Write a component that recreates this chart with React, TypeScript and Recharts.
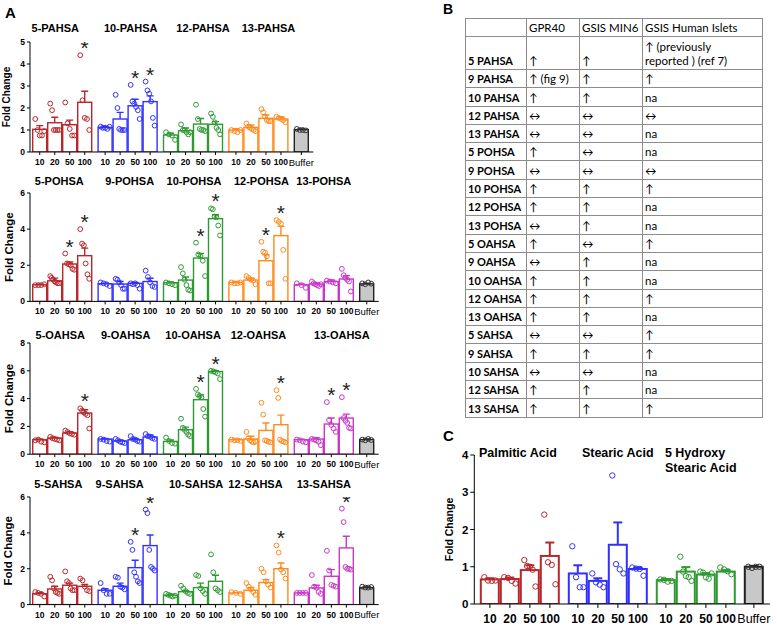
import React from 'react';
import { ComposedChart, Bar, Scatter, XAxis, YAxis, ReferenceDot } from 'recharts';

const doses = ['10', '20', '50', '100'];

const RED = '#b7272c';
const BLUE = '#3131ff';
const GREEN = '#2f9a33';
const ORANGE = '#ff8a1c';
const MAGENTA = '#c938c9';

// Panel A, row 1
const pahsaNames = ['5-PAHSA', '10-PAHSA', '12-PAHSA', '13-PAHSA'];
const pahsaMeans = [[1.03, 1.33, 1.24, 2.26], [1.12, 1.5, 2.1, 2.29], [0.77, 0.97, 1.27, 1.26], [1.0, 1.12, 1.53, 1.5]];
const pahsaSem = [[0.17, 0.25, 0.21, 0.5], [0.04, 0.3, 0.3, 0.26], [0.08, 0.12, 0.25, 0.12], [0.06, 0.11, 0.15, 0.1]];
const pahsaPoints = [
  [[1.5, 1.0, 0.75, 0.75, 0.95], [2.2, 1.9, 1.0, 1.0, 1.0, 1.0], [2.25, 1.3, 1.05, 0.75, 0.75], [4.4, 2.35, 1.55, 1.5, 1.0]],
  [[1.15, 1.1, 1.1, 1.05, 1.15], [2.6, 2.0, 1.05, 1.0, 1.0, 1.0], [3.05, 2.3, 2.2, 2.05, 1.9, 1.5], [3.2, 2.8, 2.65, 2.3, 1.55, 1.2]],
  [[0.9, 0.8, 0.75, 0.55], [1.25, 1.0, 1.0, 0.9, 0.8, 0.9], [2.15, 1.5, 1.05, 1.0, 1.0, 0.95], [1.75, 1.6, 1.35, 1.1, 1.0, 0.8]],
  [[1.0, 0.95, 0.9, 1.0], [1.3, 1.15, 1.1, 1.05, 1.0, 0.95], [1.95, 1.8, 1.6, 1.45, 1.4, 1.4], [1.6, 1.55, 1.5, 1.45, 1.35]],
];
const pahsaStars = [[0, 0, 0, 1], [0, 0, 1, 1], [0, 0, 0, 0], [0, 0, 0, 0]];

// Panel A, row 2
const pohsaNames = ['5-POHSA', '9-POHSA', '10-POHSA', '12-POHSA', '13-POHSA'];
const pohsaMeans = [[0.92, 1.14, 2.07, 2.53], [0.98, 0.96, 1.0, 1.1], [1.03, 1.18, 2.4, 4.58], [1.05, 1.18, 2.25, 3.64], [0.92, 0.96, 1.1, 1.24]];
const pohsaSem = [[0.03, 0.15, 0.11, 0.42], [0.03, 0.15, 0.05, 0.18], [0.04, 0.17, 0.26, 0.22], [0.03, 0.11, 0.33, 0.51], [0.04, 0.06, 0.08, 0.18]];
const pohsaPoints = [
  [[0.9, 0.9, 0.9, 0.95], [1.4, 1.3, 1.2, 1.1, 1.05, 1.0, 1.0], [2.65, 2.1, 2.05, 2.0, 1.8, 1.75], [4.0, 3.2, 3.1, 2.1, 1.5, 1.25]],
  [[1.05, 1.0, 0.95, 0.85], [1.25, 1.2, 1.05, 0.9, 0.7, 0.7], [1.0, 0.95, 1.0, 0.9, 0.7], [1.7, 1.35, 1.05, 0.85, 0.8]],
  [[1.05, 1.0, 0.95, 0.9], [1.9, 1.55, 1.2, 0.9, 0.65, 0.6], [3.25, 2.6, 2.5, 2.25, 1.4], [5.15, 5.1, 4.7, 4.65, 4.2, 3.65]],
  [[1.05, 1.0, 1.0, 1.05], [1.4, 1.3, 1.2, 1.15, 0.95], [3.3, 2.75, 2.7, 2.5, 1.0, 1.0], [4.5, 4.4, 4.3, 2.85, 1.25]],
  [[1.0, 0.9, 0.75], [1.1, 1.0, 0.95, 0.9, 0.85, 0.95], [1.15, 1.1, 1.05, 1.0], [1.8, 1.45, 1.3, 1.2, 1.1, 0.55]],
];
const pohsaStars = [[0, 0, 1, 1], [0, 0, 0, 0], [0, 0, 1, 1], [0, 0, 1, 1], [0, 0, 0, 0]];

// Panel A, row 3
const oahsaNames = ['5-OAHSA', '9-OAHSA', '10-OAHSA', '12-OAHSA', '13-OAHSA'];
const oahsaMeans = [[1.04, 1.16, 1.52, 2.96], [1.09, 0.95, 1.04, 1.23], [0.92, 1.76, 3.92, 5.95], [1.04, 1.09, 1.71, 2.12], [1.04, 1.09, 2.17, 2.6]];
const oahsaSem = [[0.05, 0.05, 0.1, 0.24], [0.04, 0.05, 0.1, 0.15], [0.1, 0.19, 0.35, 0.06], [0.03, 0.2, 0.53, 0.69], [0.04, 0.1, 0.43, 0.28]];
const oahsaPoints = [
  [[1.0, 1.05, 0.9, 0.85], [1.25, 1.15, 1.1, 1.05, 1.0], [1.7, 1.6, 1.5, 1.45, 1.4], [3.3, 3.15, 3.0, 2.9, 2.8, 1.85]],
  [[1.1, 1.05, 0.95, 0.9], [1.1, 1.0, 0.9, 0.85, 0.8], [1.3, 1.1, 1.05, 0.95, 0.9], [1.45, 1.3, 1.25, 1.15, 1.1]],
  [[1.2, 0.95, 0.8, 0.75], [2.55, 1.9, 1.75, 1.6, 1.4, 1.3], [4.7, 4.3, 4.2, 4.1, 3.25, 2.7], [6.0, 5.95, 5.9, 5.8, 5.4]],
  [[1.05, 1.0, 1.0, 0.95], [1.6, 1.15, 1.0, 0.9, 0.85, 0.9], [3.7, 2.85, 1.0, 0.95, 0.9, 0.85], [4.6, 4.05, 1.05, 0.95, 0.9, 0.85]],
  [[1.05, 1.0, 0.9, 0.85], [1.1, 1.05, 1.0, 0.9, 0.65], [3.75, 2.45, 2.1, 1.85, 1.6], [4.1, 2.6, 2.4, 2.25, 1.9, 1.85]],
];
const oahsaStars = [[0, 0, 0, 1], [0, 0, 0, 0], [0, 0, 1, 1], [0, 0, 0, 1], [0, 0, 1, 1]];

// Panel A, row 4
const sahsaNames = ['5-SAHSA', '9-SAHSA', '10-SAHSA', '12-SAHSA', '13-SAHSA'];
const sahsaMeans = [[0.61, 0.87, 1.08, 1.02], [0.8, 1.02, 2.06, 3.29], [0.52, 0.72, 0.95, 1.3], [0.65, 0.8, 1.23, 2.0], [0.65, 0.93, 1.58, 3.16]];
const sahsaSem = [[0.05, 0.15, 0.12, 0.11], [0.08, 0.18, 0.41, 0.59], [0.04, 0.06, 0.25, 0.34], [0.03, 0.15, 0.16, 0.32], [0.02, 0.15, 0.37, 0.65]];
const sahsaPoints = [
  [[0.7, 0.65, 0.6, 0.45], [1.55, 1.35, 0.9, 0.7, 0.65, 0.6], [1.85, 1.3, 1.2, 0.9, 0.8, 0.8], [1.45, 1.35, 1.0, 0.8, 0.75]],
  [[1.2, 0.8, 0.6, 0.6], [1.55, 1.5, 1.0, 0.95, 0.85], [3.5, 3.05, 1.8, 1.55, 1.3, 1.2], [5.3, 5.1, 3.05, 2.1, 2.0, 1.9]],
  [[0.6, 0.55, 0.5, 0.45, 0.5], [1.05, 0.9, 0.75, 0.65, 0.6], [1.65, 1.6, 0.9, 0.75, 0.6], [2.8, 1.8, 0.9, 0.8, 0.7]],
  [[0.7, 0.65, 0.6], [1.2, 1.0, 0.85, 0.7, 0.55], [2.0, 1.8, 1.3, 1.1, 0.95], [3.3, 2.9, 1.95, 1.8, 1.45]],
  [[0.65, 0.65, 0.65, 0.65], [1.65, 1.0, 0.95, 0.7, 0.6], [3.0, 1.9, 1.1, 1.05, 1.0], [5.35, 4.6, 2.1, 2.0, 2.0, 1.95]],
];
const sahsaStars = [[0, 0, 0, 0], [0, 0, 1, 1], [0, 0, 0, 0], [0, 0, 0, 1], [0, 0, 0, 1]];

// Panel C
const acidNames = ['Palmitic Acid', 'Stearic Acid', '5 Hydroxy\nStearic Acid'];
const acidMeans = [[0.66, 0.67, 0.91, 1.29], [0.82, 0.62, 1.59, 0.94], [0.64, 0.87, 0.79, 0.87]];
const acidSem = [[0.03, 0.04, 0.13, 0.36], [0.22, 0.07, 0.6, 0.04], [0.03, 0.12, 0.04, 0.04]];
const acidPoints = [
  [[0.72, 0.63, 0.62, 0.63], [0.72, 0.7, 0.62, 0.55], [1.18, 1.02, 1.0, 0.92, 0.47], [2.4, 1.12, 1.05, 0.53]],
  [[1.55, 0.72, 0.45, 0.45], [0.82, 0.58, 0.52, 0.45], [3.45, 1.07, 0.93, 0.82], [0.98, 0.95, 0.94, 0.76]],
  [[0.66, 0.65, 0.6, 0.62], [1.27, 0.87, 0.75, 0.72, 0.62], [0.87, 0.84, 0.72, 0.68, 0.82], [0.98, 0.93, 0.88, 0.8]],
];
const acidStars = [[0, 0, 0, 0], [0, 0, 0, 0], [0, 0, 0, 0]];

// Buffer bars: rows A1..A4, then C
const bufferMeans = [1.02, 0.97, 1.05, 0.95, 1.0];
const bufferSem = [0.03, 0.03, 0.05, 0.03, 0.02];
const bufferPoints = [[1.05, 1.0, 1.0, 0.98], [1.0, 0.95, 1.05, 0.98], [1.05, 1.0, 1.1, 1.02], [1.0, 0.95, 0.95, 0.98], [1.0, 0.97, 1.0, 1.0]];

// Panel B
const lipidRows = ['5 PAHSA', '9 PAHSA', '10 PAHSA', '12 PAHSA', '13 PAHSA', '5 POHSA', '9 POHSA', '10 POHSA', '12 POHSA', '13 POHSA',
  '5 OAHSA', '9 OAHSA', '10 OAHSA', '12 OAHSA', '13 OAHSA', '5 SAHSA', '9 SAHSA', '10 SAHSA', '12 SAHSA', '13 SAHSA'];
const gpr40 = ['↑', '↑ (fig 9)', '↑', '↔', '↔', '↑', '↔', '↑', '↑', '↔', '↑', '↔', '↑', '↑', '↑', '↔', '↑', '↔', '↑', '↑'];
const gsisMin6 = ['↑', '↑', '↑', '↔', '↔', '↔', '↔', '↑', '↑', '↑', '↔', '↑', '↑', '↑', '↑', '↔', '↑', '↔', '↑', '↑'];
const gsisIslets = ['↑ (previously\nreported ) (ref 7)', '↑', 'na', '↔', 'na', 'na', '↔', '↑', 'na', 'na', '↑', 'na', 'na', '↑', 'na', '↑', '↑', 'na', 'na', '↑'];

const aBase = {
  left: 0, ml: 8, mr: 40, yw: 22, slot: 15, stride: 4.36, barSize: 14, xMin: -0.15, xPad: 1.3, topH: 28, botH: 20,
  jitter: 0.3, dotR: 2.4, barStroke: 1.4, cap: 7, titleSize: 11, titleAnchor: 'middle', titleLine: 14,
  tickFont: 8.5, bufFont: 9.5, yTickFont: 8.5, yTickSize: 3, xTickSize: 3, xTickMargin: 4, yLabelX: 12.5, yLabelSize: 11.5, starSize: 21,
};

const panels = [
  {
    names: pahsaNames, means: pahsaMeans, sems: pahsaSem, points: pahsaPoints, stars: pahsaStars, buf: 0,
    colors: [RED, BLUE, GREEN, ORANGE], yMax: 5, yTicks: [0, 1, 2, 3, 4, 5],
    lay: { ...aBase, plotTop: 42, plotH: 110, titleDy: -9.7, titleShift: [-7, 3, 10, 10], yLabelSize: 10, yLabelX: 10 },
  },
  {
    names: pohsaNames, means: pohsaMeans, sems: pohsaSem, points: pohsaPoints, stars: pohsaStars, buf: 1,
    colors: [RED, BLUE, GREEN, ORANGE, MAGENTA], yMax: 6, yTicks: [0, 2, 4, 6],
    lay: { ...aBase, plotTop: 193.3, plotH: 108.4, titleDy: -8, titleShift: [-3, 2, 1, 3, 0] },
  },
  {
    names: oahsaNames, means: oahsaMeans, sems: oahsaSem, points: oahsaPoints, stars: oahsaStars, buf: 2,
    colors: [RED, BLUE, GREEN, ORANGE, MAGENTA], yMax: 8, yTicks: [0, 2, 4, 6, 8],
    lay: { ...aBase, plotTop: 343.3, plotH: 111.2, titleDy: -4, titleShift: [-2, -2, 0, 0, 18] },
  },
  {
    names: sahsaNames, means: sahsaMeans, sems: sahsaSem, points: sahsaPoints, stars: sahsaStars, buf: 3,
    colors: [RED, BLUE, GREEN, ORANGE, MAGENTA], yMax: 6, yTicks: [0, 2, 4, 6],
    lay: { ...aBase, plotTop: 496.7, plotH: 107.6, titleDy: -9.4, titleShift: [-4, -8, 3, -3, 0] },
  },
  {
    names: acidNames, means: acidMeans, sems: acidSem, points: acidPoints, stars: acidStars, buf: 4,
    colors: [RED, BLUE, GREEN], yMax: 4, yTicks: [0, 1, 2, 3, 4],
    lay: {
      left: 436, ml: 0, mr: 10, yw: 38.3, slot: 20, stride: 4.4, barSize: 18, xMin: -0.28, xPad: 1.3, topH: 15, botH: 25,
      jitter: 0.28, dotR: 2.7, barStroke: 2, cap: 9, titleSize: 12.5, titleAnchor: 'start', titleLine: 14.5,
      tickFont: 12, bufFont: 12.5, yTickFont: 11.5, yTickSize: 4, xTickSize: 4, xTickMargin: 6, yLabelX: 17, yLabelSize: 10.5, starSize: 21,
      plotTop: 455, plotH: 149, titleDy: 2.5, titleShift: [-41, -26, -31],
    },
  },
];

const spread = (k: number, n: number, w: number) => (n < 2 ? 0 : -w + (2 * w * k) / (n - 1));

function buildPanel(p: any) {
  const lay = p.lay;
  const bars: any[] = [];
  const dots: any[] = [];
  const titles: any[] = [];
  const add = (x: number, v: number, sem: number, pts: number[], color: string, label: string, star: number, isBuffer: boolean) => {
    bars.push({ x, v, sem, top: Math.max(...pts), star: !!star, color, label, isBuffer });
    pts.forEach((y, k) => dots.push({ x: x + spread(k, pts.length, lay.jitter), y, color: isBuffer ? '#333' : color }));
  };
  p.means.forEach((group: number[], g: number) => {
    group.forEach((v, i) => add(g * lay.stride + i + 0.5, v, p.sems[g][i], p.points[g][i], p.colors[g], doses[i], p.stars[g][i], false));
    titles.push({ x: g * lay.stride + 2 + lay.titleShift[g] / lay.slot, name: p.names[g] });
  });
  add(p.means.length * lay.stride + 0.5, bufferMeans[p.buf], bufferSem[p.buf], bufferPoints[p.buf], '#222', 'Buffer', 0, true);
  const xMax = p.means.length * lay.stride + lay.xPad;
  return { bars, dots, titles, xMax };
}

function BarShape(props: any) {
  const { x, y, width, height, payload, lay } = props;
  if (!payload || !(height > 0)) return null;
  const ppu = height / payload.v;
  const cx = x + width / 2;
  const w = lay.barSize;
  const errY = y - payload.sem * ppu;
  const topY = y - (payload.top - payload.v) * ppu;
  const c = payload.color;
  return (
    <g>
      <rect x={cx - w / 2} y={y} width={w} height={height} fill={payload.isBuffer ? '#c8c8c8' : '#fff'} stroke={c} strokeWidth={lay.barStroke} />
      <line x1={cx} x2={cx} y1={y} y2={errY} stroke={c} strokeWidth={lay.barStroke} />
      <line x1={cx - lay.cap / 2} x2={cx + lay.cap / 2} y1={errY} y2={errY} stroke={c} strokeWidth={lay.barStroke} />
      {payload.star ? (
        <text x={cx} y={topY} textAnchor="middle" fontSize={lay.starSize} fill="#222">*</text>
      ) : null}
    </g>
  );
}

function Panel({ p }: { p: any }) {
  const lay = p.lay;
  const { bars, dots, titles, xMax } = buildPanel(p);
  const width = lay.ml + lay.yw + (xMax - lay.xMin) * lay.slot + lay.mr;
  const height = lay.topH + lay.plotH + lay.botH;
  const findBar = (v: number) => bars.find((b) => Math.abs(b.x - v) < 1e-6);

  const xTick = (t: any) => {
    const b = findBar(t.payload.value);
    if (!b) return null;
    return (
      <text x={t.x} y={t.y} dy="0.71em" textAnchor="middle" fill="#000"
        fontSize={b.isBuffer ? lay.bufFont : lay.tickFont} fontWeight={b.isBuffer ? 'normal' : 'bold'}>
        {b.label}
      </text>
    );
  };

  const titleLabel = (name: string) => (lp: any) => {
    const vb = lp.viewBox || {};
    const x = (vb.x || 0) + (vb.width || 0) / 2;
    const y = (vb.y || 0) + (vb.height || 0) / 2 + lay.titleDy;
    return (
      <text x={x} y={y} textAnchor={lay.titleAnchor} fontSize={lay.titleSize} fontWeight="bold" fill="#000">
        {name.split('\n').map((line: string, i: number) => (
          <tspan key={i} x={x} dy={i === 0 ? 0 : lay.titleLine}>{line}</tspan>
        ))}
      </text>
    );
  };

  const yTitle = (props: any) => {
    const vb = props.viewBox || {};
    const cy = (vb.y || 0) + (vb.height || 0) / 2;
    return (
      <text x={lay.yLabelX} y={cy} transform={`rotate(-90 ${lay.yLabelX} ${cy})`} textAnchor="middle"
        fontSize={lay.yLabelSize} fontWeight="bold" fill="#000">
        Fold Change
      </text>
    );
  };

  return (
    <div style={{ position: 'absolute', left: lay.left, top: lay.plotTop - lay.topH }}>
      <ComposedChart width={width} height={height} data={bars} margin={{ top: lay.topH, right: lay.mr, bottom: 0, left: lay.ml }}>
        <XAxis dataKey="x" type="number" domain={[lay.xMin, xMax]} allowDataOverflow ticks={bars.map((b) => b.x)} interval={0}
          tick={xTick} tickSize={lay.xTickSize} tickMargin={lay.xTickMargin} height={lay.botH} stroke="#000" strokeWidth={1} />
        <YAxis type="number" domain={[0, p.yMax]} allowDataOverflow ticks={p.yTicks} interval={0} width={lay.yw}
          tickSize={lay.yTickSize} tickMargin={2} stroke="#000" strokeWidth={1}
          tick={{ fontSize: lay.yTickFont, fontWeight: 'bold', fill: '#000' }}
          label={{ content: yTitle }} />
        <Bar dataKey="v" barSize={lay.barSize} isAnimationActive={false} shape={(s: any) => <BarShape {...s} lay={lay} />} />
        <Scatter data={dots} dataKey="y" isAnimationActive={false}
          shape={(s: any) => <circle cx={s.cx} cy={s.cy} r={lay.dotR} fill="none" stroke={s.payload.color} strokeWidth={1} />} />
        {titles.map((s, i) => (
          <ReferenceDot key={i} x={s.x} y={p.yMax} r={0} fill="none" stroke="none" ifOverflow="visible"
            label={{ content: titleLabel(s.name) }} />
        ))}
      </ComposedChart>
    </div>
  );
}

const cell: React.CSSProperties = {
  border: '1px solid #8c8c8c', padding: '0 1px 1px 2px', verticalAlign: 'bottom', lineHeight: '14px', whiteSpace: 'pre',
  overflow: 'hidden',
};

export default function App() {
  return (
    <div style={{ position: 'absolute', left: 0, top: 0, width: 777, height: 628, background: '#fff', overflow: 'hidden',
      fontFamily: '"Liberation Sans", Arial, sans-serif' }}>
      <div style={{ position: 'absolute', left: 5, top: 4.5, fontSize: 15, lineHeight: '15px', fontWeight: 'bold' }}>A</div>
      <div style={{ position: 'absolute', left: 443, top: 1.5, fontSize: 14, lineHeight: '14px', fontWeight: 'bold' }}>B</div>
      <div style={{ position: 'absolute', left: 443, top: 428, fontSize: 15, lineHeight: '15px', fontWeight: 'bold' }}>C</div>
      {panels.map((p, i) => <Panel key={i} p={p} />)}
      <table style={{ position: 'absolute', left: 465, top: 18, width: 297, borderCollapse: 'collapse', tableLayout: 'fixed',
        fontFamily: 'Lato, "Open Sans", sans-serif', fontSize: 11.5, color: '#000' }}>
        <colgroup>
          <col style={{ width: 61 }} />
          <col style={{ width: 53 }} />
          <col style={{ width: 63 }} />
          <col style={{ width: 120 }} />
        </colgroup>
        <tbody>
          <tr style={{ height: 18.3 }}>
            <td style={cell}></td>
            <td style={cell}>GPR40</td>
            <td style={cell}>GSIS MIN6</td>
            <td style={cell}>GSIS Human Islets</td>
          </tr>
          {lipidRows.map((name, i) => (
            <tr key={name} style={{ height: i === 0 ? 32.7 : 18.3 }}>
              <td style={{ ...cell, fontWeight: 'bold', fontSize: 11 }}>{name}</td>
              <td style={cell}>{gpr40[i]}</td>
              <td style={cell}>{gsisMin6[i]}</td>
              <td style={cell}>{gsisIslets[i]}</td>
            </tr>
          ))}
        </tbody>
      </table>
    </div>
  );
}
